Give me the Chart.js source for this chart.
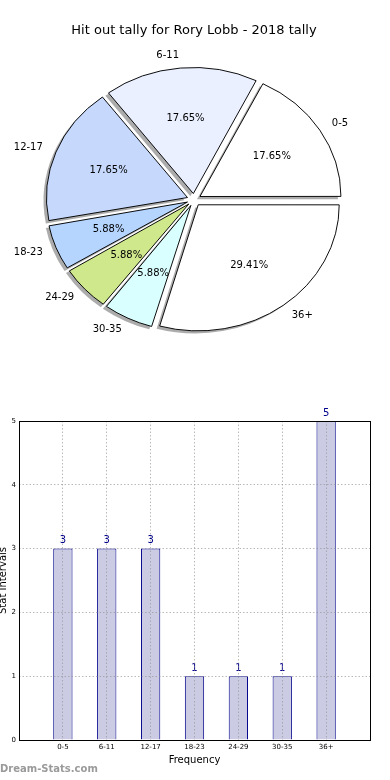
<!DOCTYPE html>
<html>
<head>
<meta charset="utf-8">
<script src="https://cdn.jsdelivr.net/npm/chart.js@4.4.1/dist/chart.umd.min.js"></script>
<style>
    html, body { margin: 0; padding: 0; background: #fff; }
    body { width: 390px; height: 780px; position: relative; overflow: hidden; }
    #graficoPie { position: absolute; left: 0; top: 0; }
    #graficoBarras { position: absolute; left: 0; top: 380px; }
    #marca { position: absolute; left: 0; top: 763px; font: bold 10px 'DejaVu Sans'; color: #9a9a9a; }
</style>
</head>
<body>
<canvas id="graficoPie" width="390" height="380"></canvas>
<canvas id="graficoBarras" width="390" height="400"></canvas>
<div id="marca">Dream-Stats.com</div>
<script>
// Datos del gráfico
const categorias = ['0-5', '6-11', '12-17', '18-23', '24-29', '30-35', '36+'];
const frecuencias = [3, 3, 3, 1, 1, 1, 5];
const coloresSectores = ['#ffffff', '#eaf0ff', '#c6d9fd', '#b5d5ff', '#cfe88c', '#daffff', '#ffffff'];
const ticksY = [0, 1, 2, 3, 4, 5];

const titulo = 'Hit out tally for Rory Lobb - 2018 tally';
const FUENTE = "'DejaVu Sans'";
const AZUL = '#00008b';
const RATIO_Y = 0.894;   // el pie de matplotlib sale achatado
const SOMBRA_X = -3;
const SOMBRA_Y = 3;

Chart.defaults.font.family = FUENTE;
Chart.defaults.color = '#000';

// Chart.js agranda los sectores pequeños cuando tienen offset; lo compensamos
function extraRadio(arco) {
    const off = (arco.options.offset || 0) / 4;
    const circ = arco.endAngle - arco.startAngle;
    return off * (1 - Math.sin(Math.min(Math.PI, circ)));
}

// Plugin para aplastar el pie, dibujar las sombras y las etiquetas
const pluginPie = {
    id: 'pieElipse',
    afterDatasetUpdate(chart) {
        chart.getDatasetMeta(0).data.forEach(function (arco) {
            arco.radioBase = arco.outerRadius;
            arco.outerRadius = arco.radioBase - extraRadio(arco);
        });
    },
    beforeDatasetsDraw(chart) {
        const ctx = chart.ctx;
        const arcos = chart.getDatasetMeta(0).data;
        const cx = arcos[0].x;
        const cy = arcos[0].y;
        ctx.save();
        ctx.translate(cx, cy);
        ctx.scale(1, RATIO_Y);
        ctx.translate(-cx, -cy);
        // sombras debajo de los sectores
        arcos.forEach(function (arco) {
            const off = (arco.options.offset || 0) / 4;
            const medio = (arco.startAngle + arco.endAngle) / 2;
            const x = cx + Math.cos(medio) * off + SOMBRA_X;
            const y = cy + Math.sin(medio) * off + SOMBRA_Y;
            ctx.beginPath();
            ctx.moveTo(x, y);
            ctx.arc(x, y, arco.radioBase, arco.startAngle, arco.endAngle);
            ctx.closePath();
            ctx.fillStyle = 'rgba(70,70,70,0.45)';
            ctx.fill();
        });
    },
    afterDatasetsDraw(chart) {
        const ctx = chart.ctx;
        ctx.restore();
        const arcos = chart.getDatasetMeta(0).data;
        const datos = chart.data.datasets[0].data;
        const total = datos.reduce((a, b) => a + b, 0);
        ctx.save();
        ctx.font = '10px ' + FUENTE;
        ctx.fillStyle = '#000';
        ctx.textBaseline = 'middle';
        arcos.forEach(function (arco, i) {
            const off = (arco.options.offset || 0) / 4;
            const medio = (arco.startAngle + arco.endAngle) / 2;
            const r = arco.radioBase;
            const cos = Math.cos(medio);
            const sin = Math.sin(medio);
            // porcentaje dentro del sector
            const dp = 0.6 * r + off;
            ctx.textAlign = 'center';
            ctx.fillText((datos[i] / total * 100).toFixed(2) + '%', arco.x + dp * cos, arco.y + RATIO_Y * dp * sin);
            // nombre fuera del sector
            const de = 1.1 * r + off;
            ctx.textAlign = cos > 0 ? 'left' : 'right';
            ctx.fillText(chart.data.labels[i], arco.x + de * cos, arco.y + RATIO_Y * de * sin);
        });
        ctx.restore();
    }
};

// Plugin para los valores encima de las barras
const pluginValores = {
    id: 'valores',
    afterDatasetsDraw(chart) {
        const ctx = chart.ctx;
        const meta = chart.getDatasetMeta(0);
        const datos = chart.data.datasets[0].data;
        ctx.save();
        ctx.font = '10px ' + FUENTE;
        ctx.fillStyle = AZUL;
        ctx.textAlign = 'center';
        ctx.textBaseline = 'alphabetic';
        meta.data.forEach(function (barra, i) {
            if (datos[i] === null) return;
            ctx.fillText(String(datos[i]), barra.x, barra.y - 5.5);
        });
        ctx.restore();
    }
};

// Plugin para el marco negro del área de gráfico
const pluginMarco = {
    id: 'marco',
    afterDraw(chart) {
        const a = chart.chartArea;
        const ctx = chart.ctx;
        ctx.save();
        ctx.strokeStyle = '#000';
        ctx.lineWidth = 1;
        ctx.strokeRect(a.left + 0.5, a.top + 0.5, a.right - a.left, a.bottom - a.top);
        ctx.restore();
    }
};

// Gráfico de pie (orden invertido porque Chart.js gira en sentido horario)
new Chart(document.getElementById('graficoPie'), {
    type: 'pie',
    data: {
        labels: categorias.slice().reverse(),
        datasets: [{
            data: frecuencias.slice().reverse(),
            backgroundColor: coloresSectores.slice().reverse(),
            borderColor: '#000',
            borderWidth: 1,
            borderJoinStyle: 'miter',
            offset: 28,
            clip: false
        }]
    },
    options: {
        responsive: false,
        animation: false,
        events: [],
        rotation: 90,
        radius: 141,
        layout: { padding: { top: 0, bottom: 28.5, left: 0, right: 2 } },
        plugins: {
            legend: { display: false },
            tooltip: { enabled: false },
            title: {
                display: true,
                text: titulo,
                color: '#000',
                font: { size: 13, weight: 'normal', family: FUENTE },
                padding: { top: 22.5, bottom: 10 }
            }
        }
    },
    plugins: [pluginPie]
});

// Gráfico de barras, con una categoría vacía a cada lado
const etiquetasX = [''].concat(categorias, ['']);
const valoresX = [null].concat(frecuencias, [null]);

new Chart(document.getElementById('graficoBarras'), {
    type: 'bar',
    data: {
        labels: etiquetasX,
        datasets: [{
            data: valoresX,
            backgroundColor: '#cbcce3',
            borderColor: AZUL,
            borderWidth: 1,
            barPercentage: 0.44,
            categoryPercentage: 1
        }]
    },
    options: {
        responsive: false,
        animation: false,
        events: [],
        layout: { padding: { top: 41, bottom: 0, left: 0, right: 20 } },
        plugins: {
            legend: { display: false },
            tooltip: { enabled: false }
        },
        scales: {
            x: {
                offset: false,
                afterFit: function (scale) { scale.height = 40; },
                grid: { offset: false, drawTicks: false, color: 'rgba(140,140,140,0.6)', z: 1 },
                border: { display: false, dash: [1.5, 2] },
                ticks: { autoSkip: false, maxRotation: 0, padding: 3, font: { size: 7 }, color: '#000' },
                title: {
                    display: true,
                    text: 'Frequency',
                    font: { size: 10 },
                    padding: { top: 0, bottom: 14 }
                }
            },
            y: {
                min: ticksY[0],
                max: ticksY[ticksY.length - 1],
                afterFit: function (scale) { scale.width = 19; },
                afterBuildTicks: function (scale) {
                    scale.ticks = ticksY.map(v => ({ value: v }));
                },
                grid: { drawTicks: false, color: 'rgba(140,140,140,0.6)', z: 1 },
                border: { display: false, dash: [1.5, 2] },
                ticks: { padding: 3, font: { size: 7 }, color: '#000' },
                title: {
                    display: true,
                    text: 'Stat Intervals',
                    font: { size: 10, lineHeight: 0.76 },
                    padding: 0
                }
            }
        }
    },
    plugins: [pluginValores, pluginMarco]
});
</script>
</body>
</html>
